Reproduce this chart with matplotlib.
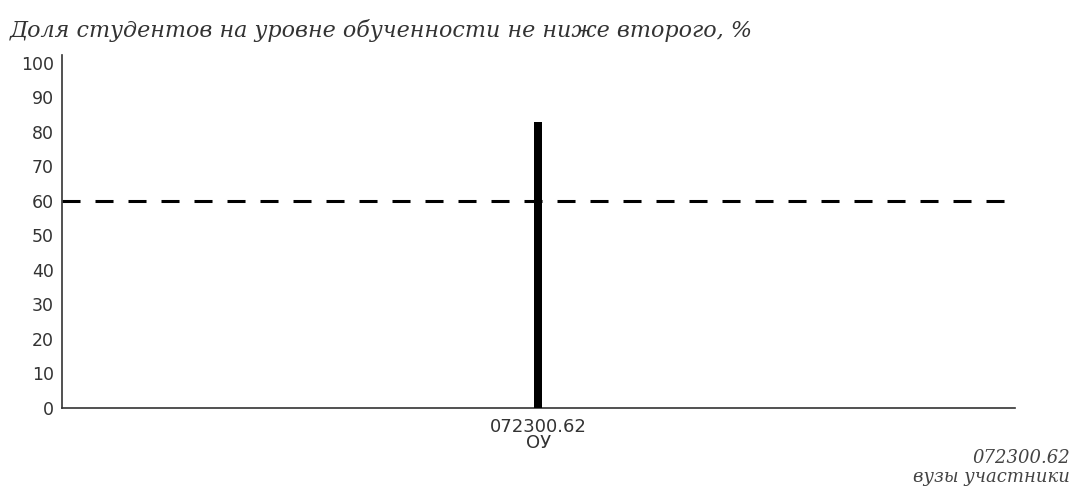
import matplotlib
matplotlib.use("Agg")
import matplotlib.pyplot as plt

categories = ["072300.62\nОУ"]
values = [83]
threshold = 60
yticks = [0, 10, 20, 30, 40, 50, 60, 70, 80, 90, 100]
title = "Доля студентов на уровне обученности не ниже второго, %"
legend_lines = ["072300.62", "вузы участники"]

fig = plt.figure(figsize=(10.73, 5.0), dpi=100)
ax = fig.add_axes([0.0578, 0.184, 0.888, 0.706])

x = list(range(len(categories)))
ax.bar(x, values, width=0.0084, color="black", zorder=3)
ax.axhline(threshold, color="black", linestyle=(0, (5.9, 4.9)), linewidth=2.2, zorder=2,
           xmax=0.995)

ax.set_xlim(-0.5, 0.5)
ax.set_ylim(0, 102.3)
ax.set_yticks(yticks)
ax.set_yticklabels([str(v) for v in yticks], fontsize=12.5, color="#333333")
ax.set_xticks(x)
ax.set_xticklabels(categories, fontsize=13, color="#333333", linespacing=0.85)
ax.tick_params(axis="both", length=0, pad=6)
ax.tick_params(axis="x", pad=7)

for s in ["top", "right"]:
    ax.spines[s].set_visible(False)
ax.spines["left"].set_color("#333333")
ax.spines["bottom"].set_color("#333333")
ax.spines["left"].set_linewidth(1.2)
ax.spines["bottom"].set_linewidth(1.2)

fig.text(0.009, 0.94, title, fontsize=16, style="italic", family="DejaVu Serif",
         color="#333333", ha="left", va="center")
fig.text(0.997, 0.084, legend_lines[0], fontsize=13, style="italic", family="DejaVu Serif",
         color="#444444", ha="right", va="center")
fig.text(0.997, 0.046, legend_lines[1], fontsize=13, style="italic", family="DejaVu Serif",
         color="#444444", ha="right", va="center")

fig.savefig("out.png", dpi=100, facecolor="white")
